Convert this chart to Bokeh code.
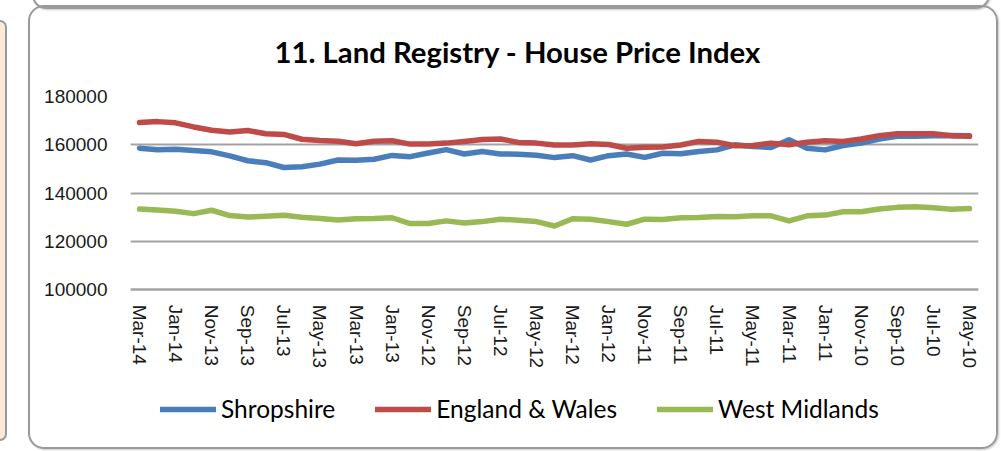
from bokeh.plotting import figure
from bokeh.models import (ColumnDataSource, FixedTicker, Legend, LegendItem, Div,
                          NumeralTickFormatter, Range1d)
from bokeh.layouts import row, column
from bokeh.embed import file_html
from bokeh.resources import INLINE

months = ["Mar-14", "Feb-14", "Jan-14", "Dec-13", "Nov-13", "Oct-13", "Sep-13", "Aug-13",
          "Jul-13", "Jun-13", "May-13", "Apr-13", "Mar-13", "Feb-13", "Jan-13", "Dec-12",
          "Nov-12", "Oct-12", "Sep-12", "Aug-12", "Jul-12", "Jun-12", "May-12", "Apr-12",
          "Mar-12", "Feb-12", "Jan-12", "Dec-11", "Nov-11", "Oct-11", "Sep-11", "Aug-11",
          "Jul-11", "Jun-11", "May-11", "Apr-11", "Mar-11", "Feb-11", "Jan-11", "Dec-10",
          "Nov-10", "Oct-10", "Sep-10", "Aug-10", "Jul-10", "Jun-10", "May-10"]

shropshire = [158600, 158000, 158200, 157600, 157100, 155400, 153400, 152600, 150600, 150900,
              152000, 153700, 153600, 154000, 155600, 155100, 156600, 158000, 156200, 157200,
              156200, 156100, 155700, 154700, 155500, 153700, 155500, 156200, 154800, 156500,
              156300, 157200, 157900, 160000, 159300, 158900, 162100, 158600, 157900, 159700,
              160700, 162400, 163500, 163500, 163800, 163900, 163800]

england_wales = [169200, 169600, 169100, 167400, 166000, 165300, 165900, 164600, 164300, 162300,
                 161800, 161500, 160400, 161500, 161700, 160300, 160300, 160700, 161400, 162200,
                 162400, 161000, 160700, 159900, 159900, 160400, 160100, 158600, 159000, 159100,
                 159900, 161400, 161100, 159600, 159700, 160700, 160000, 161100, 161700, 161400,
                 162400, 163800, 164600, 164600, 164600, 163800, 163500]

west_midlands = [133400, 133000, 132500, 131500, 132900, 130700, 130100, 130400, 130800, 130000,
                 129500, 128900, 129400, 129500, 129800, 127400, 127400, 128500, 127600, 128200,
                 129200, 128800, 128200, 126400, 129400, 129200, 128200, 127100, 129200, 129100,
                 129800, 129900, 130300, 130200, 130600, 130600, 128500, 130600, 130900, 132300,
                 132300, 133400, 134100, 134400, 133900, 133300, 133600]

series_names = ["Shropshire", "England & Wales", "West Midlands"]
series_colors = ["#4A7EBB", "#BE4B48", "#98B954"]
y_ticks = [100000, 120000, 140000, 160000, 180000]
title_text = "11. Land Registry - House Price Index"

# layout geometry (pixels inside the page)
plot_top_px, axis_px, frame_bottom_px = 97, 288, 440
per_px = (y_ticks[-1] - y_ticks[0]) / (axis_px - plot_top_px)
y_lo = y_ticks[0] - (frame_bottom_px - axis_px) * per_px

idx = list(range(len(months)))
src = ColumnDataSource(dict(x=idx, s0=shropshire, s1=england_wales, s2=west_midlands))

p = figure(width=970, height=444, output_backend="svg", toolbar_location=None,
           x_range=Range1d(-0.5, len(months) - 0.5), y_range=Range1d(y_lo, y_ticks[-1]),
           min_border_left=100, min_border_right=22, min_border_top=89, min_border_bottom=8)
p.outline_line_color = None
p.border_fill_color = None
p.background_fill_color = None

p.title.text = title_text
p.title.align = "left"
p.title.offset = 144
p.title.vertical_align = "top"
p.title.text_font = "Lato"
p.title.text_font_style = "bold"
p.title.text_font_size = "29.3px"
p.title.text_color = "#000000"
p.title.standoff = 51

p.yaxis.ticker = FixedTicker(ticks=y_ticks)
p.yaxis.formatter = NumeralTickFormatter(format="0")
p.yaxis.axis_line_color = None
p.yaxis.major_tick_line_color = None
p.yaxis.minor_tick_line_color = None
p.yaxis.major_label_standoff = 17
p.yaxis.major_label_text_font = "Liberation Sans"
p.yaxis.major_label_text_font_size = "19px"
p.yaxis.major_label_text_color = "#1a1a1a"

p.xaxis.fixed_location = y_ticks[0]
p.xaxis.ticker = FixedTicker(ticks=idx[::2])
p.xaxis.major_label_overrides = {i: months[i] for i in idx[::2]}
p.xaxis.major_label_orientation = "vertical"
p.xaxis.axis_line_color = "#a3a3a3"
p.xaxis.axis_line_width = 2
p.xaxis.major_tick_line_color = None
p.xaxis.minor_tick_line_color = None
p.xaxis.major_label_standoff = 9
p.xaxis.major_label_text_font = "Liberation Sans"
p.xaxis.major_label_text_font_size = "19px"
p.xaxis.major_label_text_color = "#1a1a1a"

p.xgrid.grid_line_color = None
p.ygrid.grid_line_color = "#a3a3a3"
p.ygrid.grid_line_width = 2

renderers = []
for key, color in zip(["s0", "s1", "s2"], series_colors):
    r = p.line("x", key, source=src, line_width=5.5, line_color=color,
               line_cap="round", line_join="round")
    renderers.append(r)

legend = Legend(items=[LegendItem(label=n, renderers=[r]) for n, r in zip(series_names, renderers)],
                orientation="horizontal", location=(30, 20),
                glyph_width=56, glyph_height=20, label_standoff=5, spacing=40,
                padding=0, margin=0, border_line_color=None, background_fill_alpha=0,
                label_text_font="Lato", label_text_font_size="24.5px", label_text_color="#000000")
p.add_layout(legend, "center")

p.styles = {"border": "2px solid #9a9a9a", "border-radius": "16px",
            "box-shadow": "1px 1px 2px #c8c8c8"}

left_div = Div(text='<div style="width:7px;height:421px;margin-top:15px;'
                    'background:#fde9d9;border:2px solid #9a9a9a;border-left:none;'
                    'border-radius:0 10px 10px 0;"></div>',
               width=28, height=444, margin=0)

top_div = Div(text='<div style="margin-left:32px;width:958px;height:14px;margin-top:-17px;'
                   'border:2px solid #9a9a9a;border-top:none;border-radius:0 0 14px 14px;'
                   'box-sizing:border-box;box-shadow:1px 1px 2px #c8c8c8;"></div>',
              width=998, height=5, margin=0)

lay = column(top_div, row(left_div, p))

open("out.html", "w").write(file_html(lay, INLINE))
